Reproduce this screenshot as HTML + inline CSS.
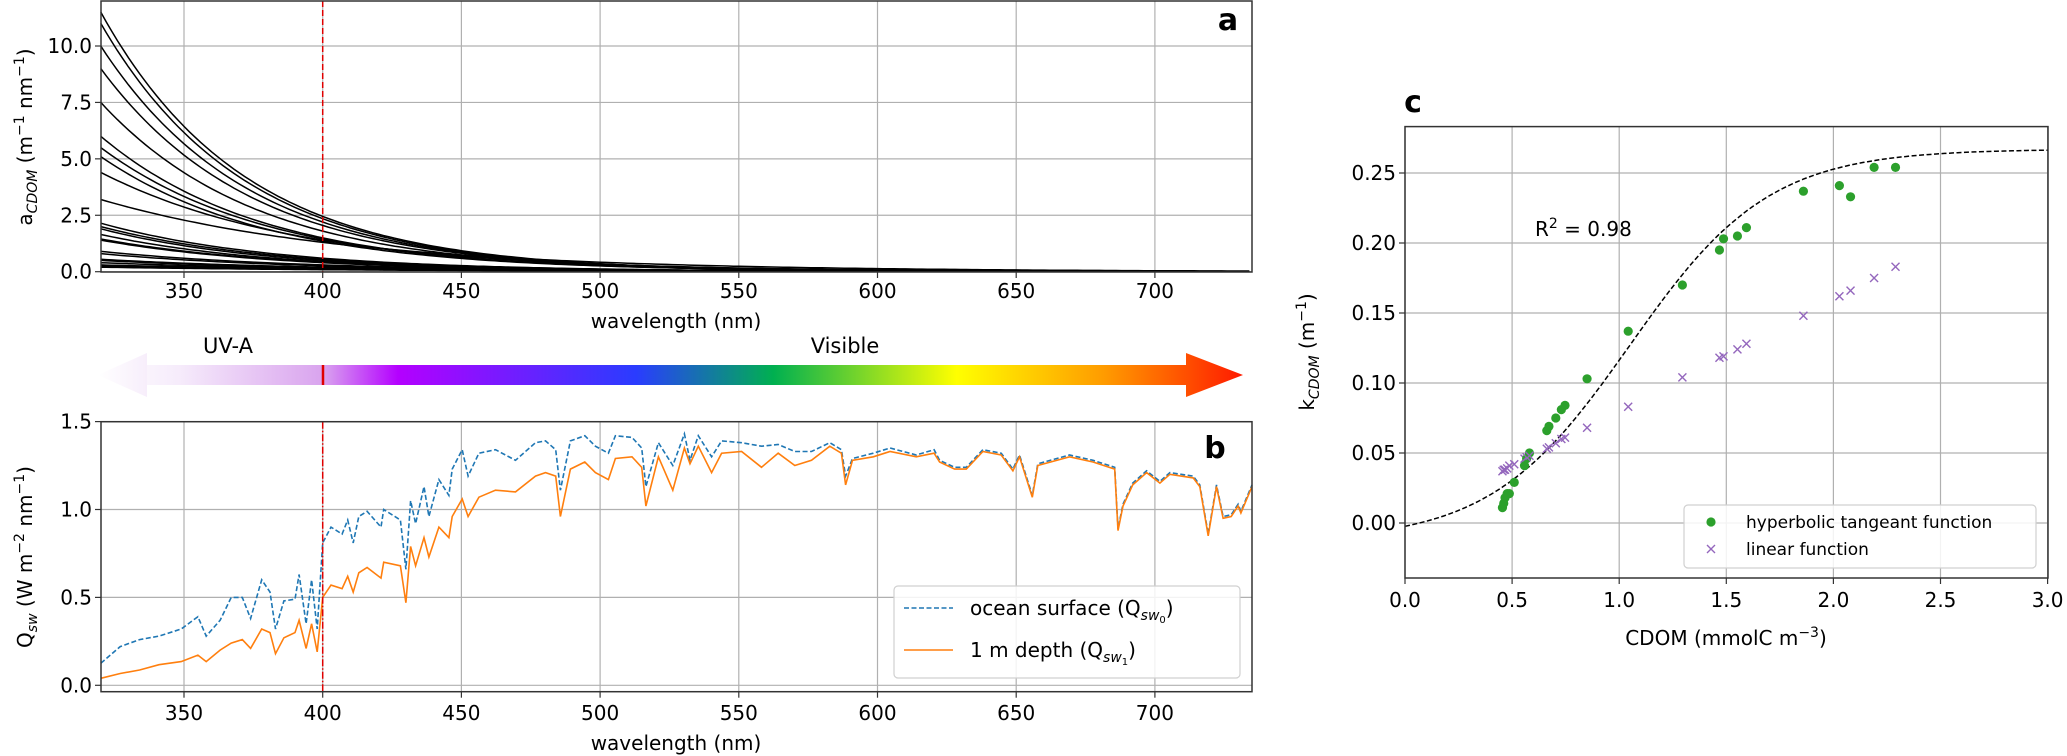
<!DOCTYPE html>
<html><head><meta charset="utf-8">
<style>
html,body{margin:0;padding:0;background:#fff;}
svg{display:block;font-family:"DejaVu Sans","Liberation Sans",sans-serif;}
</style></head>
<body>
<svg id="fig" width="2067" height="756" viewBox="0 0 2067 756" xmlns="http://www.w3.org/2000/svg">
<defs>
<linearGradient id="spec" x1="98" y1="0" x2="1243" y2="0" gradientUnits="userSpaceOnUse">
<stop offset="0" stop-color="#ffffff"/>
<stop offset="0.07" stop-color="#f6ecfb"/>
<stop offset="0.197" stop-color="#d9a3ee"/>
<stop offset="0.262" stop-color="#b400ff"/>
<stop offset="0.47" stop-color="#2a3cff"/>
<stop offset="0.59" stop-color="#00b050"/>
<stop offset="0.75" stop-color="#ffff00"/>
<stop offset="0.88" stop-color="#ff9a00"/>
<stop offset="1" stop-color="#ff1a00"/>
</linearGradient>
<linearGradient id="lhead" x1="98" y1="0" x2="147" y2="0" gradientUnits="userSpaceOnUse">
<stop offset="0" stop-color="#ffffff"/><stop offset="1" stop-color="#f7eefb"/>
</linearGradient>
</defs>
<g id="pa"></g>
<g id="arrow">
<polygon points="98,375 147,353 147,365 1186,365 1186,353 1243,375 1186,397 1186,385 147,385 147,397" fill="url(#spec)"/>
<polygon points="98,375 147,353 147,397" fill="url(#lhead)"/>
<line x1="323" y1="365" x2="323" y2="385" stroke="#e00000" stroke-width="2.5"/>
<text x="228" y="353" font-size="21" text-anchor="middle">UV-A</text>
<text x="845" y="353" font-size="21" text-anchor="middle">Visible</text>
</g>
<g id="pb"></g>
<g id="pc"></g>
</svg>
<script>
// ---------- Panel a data ----------
const aStart320 = [11.5,11.0,10.0,9.0,7.5,6.0,5.5,5.1,4.4,3.2,2.15,2.0,1.9,1.65,1.45,1.4,0.9,0.8,0.55,0.5,0.4,0.3,0.25,0.2];
const aAt400 = [2.45,2.35,2.2,2.05,1.8,1.5,1.45,1.35,1.4,1.3,0.6,0.55,0.5,0.45,0.42,0.4,0.3,0.26,0.2,0.18,0.15,0.13,0.11,0.09];
const aYTicks = [0,2.5,5,7.5,10];
const aYLabels = ["0.0","2.5","5.0","7.5","10.0"];
const wlTicks = [350,400,450,500,550,600,650,700];
const wlLabels = ["350","400","450","500","550","600","650","700"];
// ---------- Panel b data ----------
const bWl = [320,327,334,341,349,355,358,363,367,371,374,378,381,383,386,390,391.5,394,396,398,400,403,407,409,411,413,416,421,422,428,430,431.7,433.5,436.5,438.3,441.9,445.5,446.7,450.3,452.4,456.3,462.3,469.5,476.7,480.3,484,485.7,489.3,494.5,498.3,503,505.5,511.5,515,516.5,521,526.2,530.4,532.4,535.4,540.2,543.8,551,558.2,564.2,570.2,576.2,582.8,587,588.5,591,598.5,604.5,614,620.4,622.4,627.8,632,638,644.6,648.8,651.2,655.8,657.8,669.2,677.7,685.5,686.7,688.5,692,697,701.8,705.4,713.8,716.2,719.2,722.2,724.6,727.5,730,731,735];
const bSurface = [0.125,0.22,0.26,0.28,0.32,0.39,0.28,0.37,0.5,0.5,0.38,0.6,0.53,0.32,0.48,0.49,0.63,0.35,0.6,0.32,0.81,0.9,0.86,0.94,0.81,0.96,0.99,0.9,1.0,0.94,0.66,1.05,0.92,1.13,0.96,1.17,1.08,1.23,1.34,1.19,1.32,1.34,1.28,1.38,1.39,1.34,1.11,1.39,1.42,1.36,1.32,1.42,1.41,1.35,1.13,1.38,1.25,1.43,1.28,1.42,1.30,1.39,1.38,1.36,1.37,1.33,1.33,1.38,1.34,1.19,1.29,1.32,1.35,1.31,1.34,1.28,1.24,1.24,1.34,1.32,1.23,1.31,1.08,1.26,1.31,1.28,1.24,0.89,1.03,1.15,1.22,1.16,1.21,1.19,1.14,0.86,1.14,0.96,0.97,1.03,0.99,1.14];
const bDepth = [0.04,0.067,0.087,0.117,0.135,0.172,0.135,0.2,0.24,0.26,0.21,0.32,0.3,0.18,0.27,0.3,0.37,0.21,0.35,0.19,0.5,0.57,0.55,0.62,0.53,0.64,0.67,0.61,0.7,0.68,0.47,0.79,0.68,0.84,0.73,0.9,0.84,0.96,1.06,0.96,1.07,1.11,1.10,1.19,1.21,1.19,0.96,1.23,1.27,1.21,1.17,1.29,1.30,1.24,1.02,1.30,1.11,1.35,1.26,1.36,1.21,1.32,1.33,1.24,1.32,1.25,1.28,1.36,1.32,1.14,1.28,1.30,1.33,1.30,1.32,1.27,1.23,1.23,1.33,1.31,1.22,1.30,1.07,1.25,1.30,1.27,1.23,0.88,1.02,1.14,1.21,1.15,1.20,1.18,1.13,0.85,1.13,0.95,0.96,1.02,0.98,1.13];
const bYTicks = [0,0.5,1.0,1.5];
const bYLabels = ["0.0","0.5","1.0","1.5"];
// ---------- Panel c data ----------
const cdomX = [0.455,0.461,0.467,0.477,0.487,0.51,0.558,0.568,0.581,0.662,0.672,0.704,0.73,0.747,0.85,1.042,1.295,1.468,1.487,1.552,1.594,1.86,2.028,2.08,2.19,2.29];
const kHyper = [0.011,0.014,0.018,0.021,0.021,0.029,0.041,0.046,0.050,0.066,0.069,0.075,0.081,0.084,0.103,0.137,0.170,0.195,0.203,0.205,0.211,0.237,0.241,0.233,0.254,0.254];
const kLinear = [0.037,0.038,0.038,0.039,0.041,0.042,0.046,0.047,0.048,0.053,0.054,0.057,0.060,0.061,0.068,0.083,0.104,0.118,0.119,0.124,0.128,0.148,0.162,0.166,0.175,0.183];
const fitParams = [0.127,0.14,1.05,0.65]; // a + b*tanh((x-c)/d)
const cXTicks = [0,0.5,1,1.5,2,2.5,3];
const cXLabels = ["0.0","0.5","1.0","1.5","2.0","2.5","3.0"];
const cYTicks = [0,0.05,0.1,0.15,0.2,0.25];
const cYLabels = ["0.00","0.05","0.10","0.15","0.20","0.25"];

const NS = "http://www.w3.org/2000/svg";
function mk(parent, tag, attrs, text){
  const e = document.createElementNS(NS, tag);
  for (const k in attrs) e.setAttribute(k, attrs[k]);
  if (text !== undefined) e.textContent = text;
  parent.appendChild(e);
  return e;
}
// scales
const wlX = w => 322.7 + (w - 400) * 2.774;
const aY = v => 271.7 - v * 22.57;
const bY = v => 685.3 - v * 175.8;
const cX = v => 1405 + v * 214.2;
const cY = v => 523 - v * 1400;

// ---------- Panel a ----------
const pa = document.getElementById('pa');
const A = {l:101, r:1252, t:1, b:272};
wlTicks.forEach((w,i)=>{
  const g = mk(pa,'line',{x1:wlX(w),x2:wlX(w),y1:A.t,y2:A.b,stroke:'#b0b0b0','stroke-width':1.2});
  
  
  const tk = mk(pa,'line',{x1:wlX(w),x2:wlX(w),y1:A.b,y2:A.b+6,stroke:'#333','stroke-width':1.2});
  
  
  const t = mk(pa,'text',{x:wlX(w),y:298,'font-size':20,'text-anchor':'middle'},wlLabels[i]);
  
  
});
aYTicks.forEach((v,i)=>{
  const g = mk(pa,'line',{x1:A.l,x2:A.r,y1:aY(v),y2:aY(v),stroke:'#b0b0b0','stroke-width':1.2});
  
  
  const tk = mk(pa,'line',{x1:A.l-6,x2:A.l,y1:aY(v),y2:aY(v),stroke:'#333','stroke-width':1.2});
  
  
  const t = mk(pa,'text',{x:A.l-9,y:aY(v)+7,'font-size':20,'text-anchor':'end'},aYLabels[i]);
  
  
});
aStart320.forEach((a0,i)=>{
  const S = Math.log(a0/aAt400[i])/80;
  let d='';
  for(let w=320; w<=735; w+=2){
    const v = a0*Math.exp(-S*(w-320));
    d += (w===320?'M':'L') + wlX(w).toFixed(1)+','+aY(v).toFixed(1);
  }
  const p = mk(pa,'path',{d:d,fill:'none',stroke:'#000','stroke-width':1.5});
  
  
});
{
  const l = mk(pa,'line',{x1:wlX(400),x2:wlX(400),y1:A.t,y2:A.b,stroke:'#e00000','stroke-width':1.5,'stroke-dasharray':'6,3'});
  
  
  const f = mk(pa,'rect',{x:A.l,y:A.t,width:A.r-A.l,height:A.b-A.t,fill:'none',stroke:'#333','stroke-width':1.5});
  
  
  const xl = mk(pa,'text',{x:676,y:328,'font-size':20,'text-anchor':'middle'},'wavelength (nm)');
  
  
  const yl = mk(pa,'text',{x:0,y:0,'font-size':20,'text-anchor':'middle',transform:'translate(32,137) rotate(-90)'});
  
  
  yl.innerHTML = 'a<tspan font-size="14" font-style="italic" dy="5">CDOM</tspan><tspan dy="-5"> (m</tspan><tspan font-size="14" dy="-8">−1</tspan><tspan dy="8"> nm</tspan><tspan font-size="14" dy="-8">−1</tspan><tspan dy="8">)</tspan>';
  const lab = mk(pa,'text',{x:1228,y:30,'font-size':30,'font-weight':'bold','text-anchor':'middle'},'a');
  
  
}

// ---------- Panel b ----------
const pb = document.getElementById('pb');
const B = {l:101, r:1252, t:421.7, b:691.7};
wlTicks.forEach((w,i)=>{
  const g = mk(pb,'line',{x1:wlX(w),x2:wlX(w),y1:B.t,y2:B.b,stroke:'#b0b0b0','stroke-width':1.2});
  
  
  const tk = mk(pb,'line',{x1:wlX(w),x2:wlX(w),y1:B.b,y2:B.b+6,stroke:'#333','stroke-width':1.2});
  
  
  const t = mk(pb,'text',{x:wlX(w),y:720,'font-size':20,'text-anchor':'middle'},wlLabels[i]);
  
  
});
bYTicks.forEach((v,i)=>{
  const g = mk(pb,'line',{x1:B.l,x2:B.r,y1:bY(v),y2:bY(v),stroke:'#b0b0b0','stroke-width':1.2});
  
  
  const tk = mk(pb,'line',{x1:B.l-6,x2:B.l,y1:bY(v),y2:bY(v),stroke:'#333','stroke-width':1.2});
  
  
  const t = mk(pb,'text',{x:B.l-9,y:bY(v)+7,'font-size':20,'text-anchor':'end'},bYLabels[i]);
  
  
});
function linePath(xs, ys, fx, fy){
  return xs.map((x,i)=>(i?'L':'M')+fx(x).toFixed(1)+','+fy(ys[i]).toFixed(1)).join('');
}
{
  const s = mk(pb,'path',{d:linePath(bWl,bSurface,wlX,bY),fill:'none',stroke:'#1f77b4','stroke-width':1.6,'stroke-dasharray':'5,2.5'});
  
  
  const o = mk(pb,'path',{d:linePath(bWl,bDepth,wlX,bY),fill:'none',stroke:'#ff7f0e','stroke-width':1.6});
  
  
  const l = mk(pb,'line',{x1:wlX(400),x2:wlX(400),y1:B.t,y2:B.b,stroke:'#e00000','stroke-width':1.5,'stroke-dasharray':'7,2,1.5,2'});
  
  
  const f = mk(pb,'rect',{x:B.l,y:B.t,width:B.r-B.l,height:B.b-B.t,fill:'none',stroke:'#333','stroke-width':1.5});
  
  
  const xl = mk(pb,'text',{x:676,y:750,'font-size':20,'text-anchor':'middle'},'wavelength (nm)');
  
  
  const yl = mk(pb,'text',{x:0,y:0,'font-size':20,'text-anchor':'middle',transform:'translate(32,557) rotate(-90)'});
  
  
  yl.innerHTML = 'Q<tspan font-size="14" font-style="italic" dy="5">sw</tspan><tspan dy="-5"> (W m</tspan><tspan font-size="14" dy="-8">−2</tspan><tspan dy="8"> nm</tspan><tspan font-size="14" dy="-8">−1</tspan><tspan dy="8">)</tspan>';
  const lab = mk(pb,'text',{x:1215,y:458,'font-size':30,'font-weight':'bold','text-anchor':'middle'},'b');
  
  
  const lg = mk(pb,'g',{});
  
  
  mk(lg,'rect',{x:894,y:586,width:346,height:92,rx:4,fill:'#fff','fill-opacity':0.85,stroke:'#d0d0d0','stroke-width':1.2});
  mk(lg,'line',{x1:904,x2:953,y1:608,y2:608,stroke:'#1f77b4','stroke-width':1.6,'stroke-dasharray':'5,2.5'});
  mk(lg,'line',{x1:904,x2:953,y1:650,y2:650,stroke:'#ff7f0e','stroke-width':1.6});
  const t1 = mk(lg,'text',{x:970,y:615,'font-size':20});
  
  
  t1.innerHTML = 'ocean surface (Q<tspan font-size="14" font-style="italic" dy="5">sw</tspan><tspan font-size="10" dy="3">0</tspan><tspan dy="-8">)</tspan>';
  const t2 = mk(lg,'text',{x:970,y:657,'font-size':20});
  
  
  t2.innerHTML = '1 m depth (Q<tspan font-size="14" font-style="italic" dy="5">sw</tspan><tspan font-size="10" dy="3">1</tspan><tspan dy="-8">)</tspan>';
}

// ---------- Panel c ----------
const pc = document.getElementById('pc');
const C = {l:1405, r:2048, t:126.6, b:578};
cXTicks.forEach((v,i)=>{
  const g = mk(pc,'line',{x1:cX(v),x2:cX(v),y1:C.t,y2:C.b,stroke:'#b0b0b0','stroke-width':1.2});
  
  
  const tk = mk(pc,'line',{x1:cX(v),x2:cX(v),y1:C.b,y2:C.b+6,stroke:'#333','stroke-width':1.2});
  
  
  const t = mk(pc,'text',{x:cX(v),y:607,'font-size':20,'text-anchor':'middle'},cXLabels[i]);
  
  
});
cYTicks.forEach((v,i)=>{
  const g = mk(pc,'line',{x1:C.l,x2:C.r,y1:cY(v),y2:cY(v),stroke:'#b0b0b0','stroke-width':1.2});
  
  
  const tk = mk(pc,'line',{x1:C.l-6,x2:C.l,y1:cY(v),y2:cY(v),stroke:'#333','stroke-width':1.2});
  
  
  const t = mk(pc,'text',{x:C.l-9,y:cY(v)+7,'font-size':20,'text-anchor':'end'},cYLabels[i]);
  
  
});
{
  let d='';
  for(let x=0; x<=3.0001; x+=0.02){
    const y = fitParams[0] + fitParams[1]*Math.tanh((x-fitParams[2])/fitParams[3]);
    d += (x===0?'M':'L')+cX(x).toFixed(1)+','+cY(y).toFixed(1);
  }
  const p = mk(pc,'path',{d:d,fill:'none',stroke:'#000','stroke-width':1.5,'stroke-dasharray':'5,2.5'});
  
  
}
cdomX.forEach((x,i)=>{
  const c = mk(pc,'circle',{cx:cX(x),cy:cY(kHyper[i]),r:4.6,fill:'#2ca02c'});
  
  
  const px = cX(x), py = cY(kLinear[i]), s = 4;
  const m = mk(pc,'path',{d:`M${px-s},${py-s}L${px+s},${py+s}M${px-s},${py+s}L${px+s},${py-s}`,stroke:'#9467bd','stroke-width':1.4,fill:'none'});
  
  
});
{
  const f = mk(pc,'rect',{x:C.l,y:C.t,width:C.r-C.l,height:C.b-C.t,fill:'none',stroke:'#333','stroke-width':1.5});
  
  
  const r2 = mk(pc,'text',{x:1535,y:236,'font-size':20});
  
  
  r2.innerHTML = 'R<tspan font-size="14" dy="-8">2</tspan><tspan dy="8"> = 0.98</tspan>';
  const xl = mk(pc,'text',{x:1726,y:645,'font-size':20,'text-anchor':'middle'});
  
  
  xl.innerHTML = 'CDOM (mmolC m<tspan font-size="14" dy="-8">−3</tspan><tspan dy="8">)</tspan>';
  const yl = mk(pc,'text',{x:0,y:0,'font-size':20,'text-anchor':'middle',transform:'translate(1314,352) rotate(-90)'});
  
  
  yl.innerHTML = 'k<tspan font-size="14" font-style="italic" dy="5">CDOM</tspan><tspan dy="-5"> (m</tspan><tspan font-size="14" dy="-8">−1</tspan><tspan dy="8">)</tspan>';
  const lab = mk(pc,'text',{x:1413,y:112,'font-size':30,'font-weight':'bold','text-anchor':'middle'},'c');
  
  
  const lg = mk(pc,'g',{});
  
  
  mk(lg,'rect',{x:1684,y:505,width:352,height:63,rx:4,fill:'#fff','fill-opacity':0.85,stroke:'#d0d0d0','stroke-width':1.2});
  mk(lg,'circle',{cx:1711,cy:522,r:4.6,fill:'#2ca02c'});
  mk(lg,'path',{d:'M1707,545L1715,553M1707,553L1715,545',stroke:'#9467bd','stroke-width':1.4});
  const e1 = mk(lg,'text',{x:1746,y:528,'font-size':17},'hyperbolic tangeant function');
  
  
  const e2 = mk(lg,'text',{x:1746,y:555,'font-size':17},'linear function');
  
  
}
</script>
</body></html>
